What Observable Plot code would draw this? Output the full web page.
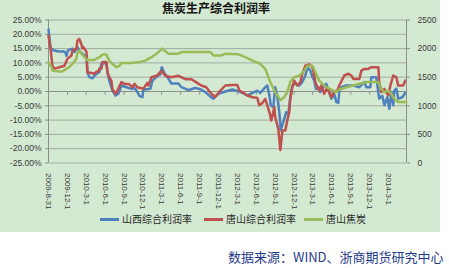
<!DOCTYPE html>
<html><head><meta charset="utf-8">
<script src="https://cdn.jsdelivr.net/npm/d3@7"></script>
<script src="https://cdn.jsdelivr.net/npm/@observablehq/plot@0.6"></script>
<style>
html,body{margin:0;padding:0;background:#fff}
body{width:449px;height:268px;overflow:hidden;position:relative;font-family:"Noto Sans CJK SC","Noto Sans",sans-serif}
#panel{position:absolute;left:0;top:0;width:440px;height:232px;background:#d4e9d1}
#chart{position:absolute;left:0;top:0;width:440px;height:232px}
#title{position:absolute;left:0;top:0;width:432px;text-align:center;font-size:12px;font-weight:bold;line-height:15px;color:#141414}
.leg{position:absolute;top:212px;font-size:10px;line-height:14px;color:#2a2a2a;white-space:nowrap}
.legline{position:absolute;top:218px;width:19px;height:2.5px}
#caption{position:absolute;left:228px;top:248px;font-size:13px;line-height:18px;color:#1f3b8c;white-space:nowrap}
</style></head><body>
<div id="panel"><div id="chart"></div><div id="title">焦炭生产综合利润率</div></div>
<div id="caption">数据来源：WIND、浙商期货研究中心</div>
<script>
// ---- data ----
const seriesNames = ["山西综合利润率", "唐山综合利润率", "唐山焦炭"];
const seriesColors = ["#4f81bd", "#c0504d", "#9bbb59"];

const shanxiDates = ["2009-08-31","2009-09-10","2009-09-24","2009-10-18","2009-11-11","2009-11-21","2009-11-26","2009-12-03","2009-12-25","2010-01-03","2010-01-18","2010-01-27","2010-02-11","2010-02-21","2010-03-03","2010-03-07","2010-03-17","2010-03-31","2010-04-10","2010-04-20","2010-05-04","2010-05-14","2010-06-07","2010-06-12","2010-06-21","2010-07-06","2010-07-21","2010-08-04","2010-08-19","2010-09-12","2010-10-06","2010-10-21","2010-11-04","2010-11-13","2010-11-28","2010-12-03","2010-12-22","2011-01-06","2011-01-15","2011-02-09","2011-02-23","2011-03-02","2011-03-14","2011-04-03","2011-04-17","2011-05-21","2011-06-05","2011-07-09","2011-08-11","2011-09-05","2011-09-28","2011-10-23","2011-11-06","2011-11-30","2012-01-03","2012-02-06","2012-03-01","2012-03-25","2012-04-19","2012-05-13","2012-06-06","2012-06-20","2012-07-10","2012-07-24","2012-08-03","2012-08-10","2012-08-22","2012-08-31","2012-09-10","2012-09-20","2012-09-27","2012-10-14","2012-10-24","2012-11-03","2012-11-12","2012-11-22","2012-12-07","2012-12-26","2013-01-09","2013-01-24","2013-02-03","2013-02-17","2013-02-27","2013-03-08","2013-03-16","2013-03-28","2013-04-06","2013-04-21","2013-05-05","2013-05-20","2013-05-30","2013-06-13","2013-06-23","2013-07-02","2013-07-07","2013-07-17","2013-08-10","2013-09-13","2013-10-12","2013-11-05","2013-11-15","2013-12-04","2013-12-09","2014-01-02","2014-01-16","2014-01-31","2014-02-10","2014-02-24","2014-03-06","2014-03-16","2014-03-25","2014-03-30","2014-04-09","2014-04-18","2014-05-08","2014-05-22"];
const shanxiRates = [21.7,15.3,14.4,14.0,14.0,13.6,12.5,14.4,15.0,13.8,15.5,14.2,13.2,12.6,12.4,6.7,5.0,4.6,5.5,6.2,6.8,9.7,10.0,6.7,3.8,0.3,-1.4,-0.8,2.1,1.5,0.9,1.2,-0.2,-1.5,-2.0,0.8,0.8,1.0,3.7,5.5,6.0,8.5,6.5,4.5,2.8,2.8,1.5,0.5,1.2,0.8,-0.2,-1.8,-2.5,-0.8,0.0,0.7,0.2,-0.5,-1.4,-0.5,0.3,-0.5,1.2,2.1,-1.4,-4.9,-5.5,1.5,-1.4,-7.2,-13.6,-9.5,-7.2,-7.8,-2.0,2.1,2.7,2.1,3.3,5.6,8.5,7.3,5.0,3.8,0.9,1.5,-0.2,1.5,2.7,-0.5,-2.5,-1.0,-3.7,-4.0,0.0,1.5,2.1,2.1,1.5,3.3,1.5,1.5,5.0,5.0,-2.5,-1.5,-4.8,-2.0,-6.0,-0.2,-4.8,0.3,1.0,-2.5,-2.0,-0.5];

const tangshanDates = ["2009-08-31","2009-09-10","2009-09-19","2009-09-29","2009-10-23","2009-11-16","2009-11-30","2009-12-20","2009-12-25","2010-01-13","2010-01-18","2010-01-27","2010-02-06","2010-02-11","2010-02-16","2010-03-03","2010-03-07","2010-03-27","2010-04-10","2010-04-20","2010-04-30","2010-05-04","2010-05-14","2010-05-19","2010-06-07","2010-06-12","2010-06-21","2010-07-01","2010-07-06","2010-07-21","2010-07-30","2010-08-19","2010-09-02","2010-09-26","2010-10-11","2010-10-21","2010-11-04","2010-11-18","2010-12-03","2010-12-22","2010-12-27","2011-01-11","2011-02-04","2011-02-28","2011-03-19","2011-04-17","2011-05-21","2011-06-24","2011-07-23","2011-08-16","2011-09-09","2011-10-03","2011-10-27","2011-11-15","2011-12-10","2012-01-03","2012-02-06","2012-03-01","2012-03-11","2012-03-25","2012-04-19","2012-05-13","2012-06-06","2012-06-15","2012-06-30","2012-07-14","2012-08-03","2012-08-12","2012-08-27","2012-08-31","2012-09-15","2012-09-25","2012-10-05","2012-10-19","2012-10-29","2012-11-07","2012-11-12","2012-11-22","2012-12-01","2012-12-16","2012-12-31","2013-01-09","2013-01-24","2013-02-12","2013-02-27","2013-03-08","2013-03-13","2013-03-23","2013-04-01","2013-04-11","2013-04-25","2013-05-05","2013-05-15","2013-05-30","2013-06-13","2013-06-27","2013-07-07","2013-07-31","2013-08-20","2013-09-03","2013-09-13","2013-10-12","2013-10-22","2013-11-05","2013-11-24","2013-12-09","2014-01-12","2014-01-16","2014-01-26","2014-02-10","2014-03-01","2014-03-11","2014-03-25","2014-04-09","2014-04-18","2014-05-12","2014-05-22"];
const tangshanRates = [19.5,15.0,9.0,8.0,8.5,9.0,11.4,12.6,14.3,15.0,17.8,18.4,16.6,15.0,15.5,13.8,6.7,6.5,6.2,7.0,7.0,8.0,8.0,10.3,10.3,6.7,5.0,3.8,0.9,-0.8,0.3,3.3,2.7,2.5,1.5,2.7,1.5,1.2,1.0,3.0,2.1,5.0,5.5,7.2,5.5,5.0,5.5,4.3,4.3,3.2,2.1,1.5,-0.8,-1.9,0.3,2.1,2.3,2.3,0.3,-0.2,-1.4,-2.0,-2.3,-4.8,-4.0,-2.6,-7.2,-10.1,-5.5,-9.0,-13.0,-20.5,-13.6,-13.6,-10.0,-7.2,-2.6,1.5,3.8,2.1,3.3,6.1,9.0,9.5,8.5,5.6,3.3,1.5,0.3,2.1,-0.8,0.9,0.3,-2.0,0.0,0.3,2.1,5.6,6.2,5.6,4.4,4.4,7.3,7.9,7.9,8.5,8.5,3.3,-0.2,0.9,-1.4,2.1,5.6,5.0,2.1,2.1,3.8];

const cokeDates = ["2009-08-31","2009-09-15","2009-09-19","2009-10-23","2009-11-06","2009-11-26","2009-12-10","2009-12-25","2010-01-13","2010-01-18","2010-01-27","2010-02-06","2010-02-21","2010-03-07","2010-04-10","2010-05-04","2010-05-19","2010-06-07","2010-06-21","2010-07-06","2010-07-25","2010-08-09","2010-08-19","2010-10-06","2010-11-18","2010-12-12","2011-01-11","2011-02-04","2011-03-05","2011-04-03","2011-05-21","2011-06-05","2011-10-23","2011-11-06","2011-12-15","2012-01-03","2012-02-06","2012-03-06","2012-04-09","2012-05-13","2012-06-20","2012-07-14","2012-08-07","2012-08-31","2012-09-25","2012-10-14","2012-10-29","2012-11-12","2012-12-01","2012-12-26","2013-01-19","2013-02-03","2013-02-27","2013-03-13","2013-04-01","2013-04-25","2013-05-05","2013-06-23","2013-07-07","2013-08-10","2013-09-13","2013-10-12","2013-11-15","2014-01-12","2014-01-26","2014-02-10","2014-03-01","2014-03-16","2014-03-30","2014-04-18","2014-05-27"];
const cokePrices = [1765,1675,1615,1600,1600,1650,1675,1735,1820,1925,1965,1910,1850,1800,1800,1850,1895,1895,1790,1735,1675,1700,1750,1750,1765,1790,1850,1910,2000,1910,1910,1940,1940,1880,1880,1910,1905,1900,1850,1790,1735,1645,1415,1240,1100,1150,1240,1415,1500,1525,1615,1700,1700,1590,1440,1355,1325,1240,1285,1325,1355,1385,1415,1415,1295,1240,1265,1210,1120,1065,1065];

const leftTicks = [25, 20, 15, 10, 5, 0, -5, -10, -15, -20, -25];
const rightTicks = [0, 500, 1000, 1500, 2000, 2500];
const xTickDates = ["2009-08-31","2009-12-01","2010-03-01","2010-06-01","2010-09-01","2010-12-01","2011-03-01","2011-06-01","2011-09-01","2011-12-01","2012-03-01","2012-06-01","2012-09-01","2012-12-01","2013-03-01","2013-06-01","2013-09-01","2013-12-01","2014-03-01"];
const xTickLabels = ["2009-8-31","2009-12-1","2010-3-1","2010-6-1","2010-9-1","2010-12-1","2011-3-1","2011-6-1","2011-9-1","2011-12-1","2012-3-1","2012-6-1","2012-9-1","2012-12-1","2013-3-1","2013-6-1","2013-9-1","2013-12-1","2014-3-1"];
const xDomain = ["2009-08-31", "2014-05-28"];

// ---- build ----
const parse = s => new Date(s + "T00:00:00Z");
const leftDomain = [-25, 25], rightDomain = [0, 2500];
const toLeft = v => leftDomain[0] + (v - rightDomain[0]) / (rightDomain[1] - rightDomain[0]) * (leftDomain[1] - leftDomain[0]);
const toRight = p => rightDomain[0] + (p - leftDomain[0]) / (leftDomain[1] - leftDomain[0]) * (rightDomain[1] - rightDomain[0]);

const shanxi = shanxiDates.map((d, i) => ({date: parse(d), v: shanxiRates[i]}));
const tangshan = tangshanDates.map((d, i) => ({date: parse(d), v: tangshanRates[i]}));
const coke = cokeDates.map((d, i) => ({date: parse(d), v: toLeft(cokePrices[i])}));
const tickDates = xTickDates.map(parse);
const labelMap = new Map(tickDates.map((d, i) => [+d, xTickLabels[i]]));

const grid = "#a3aba2", axisC = "#8a8f89", txt = "#3a3a3a";
const font = "'Liberation Sans', Arial, sans-serif";

const chart = Plot.plot({
  width: 440, height: 232,
  marginLeft: 48, marginRight: 34, marginTop: 19.5, marginBottom: 69.5,
  x: {type: "utc", domain: xDomain.map(parse), label: null},
  y: {domain: leftDomain, label: null},
  style: {background: "transparent", fontFamily: font, fontSize: "8.5px", color: txt, overflow: "visible"},
  marks: [
    Plot.ruleY(leftTicks, {stroke: grid, strokeWidth: 1}),
    Plot.ruleX([parse(xDomain[0]), parse(xDomain[1])], {stroke: axisC, strokeWidth: 1}),
    Plot.ruleY([0], {stroke: axisC, strokeWidth: 1}),
    Plot.ruleX(tickDates, {y1: 0, y2: -1.3, stroke: axisC, strokeWidth: 1}),
    Plot.axisY(leftTicks, {anchor: "left", tickSize: 3, tickPadding: 4, stroke: axisC, fill: txt, label: null,
      tickFormat: d => d.toFixed(2) + "%"}),
    Plot.axisY(rightTicks.map(toLeft), {anchor: "right", tickSize: 3, tickPadding: 8, stroke: axisC, fill: txt, label: null,
      tickFormat: d => String(Math.round(toRight(d)))}),
    Plot.axisX(tickDates, {anchor: "bottom", tickSize: 0, tickPadding: 10, tickRotate: 90, fill: txt, label: null,
      fontSize: 8, tickFormat: d => labelMap.get(+d)}),
    Plot.line(shanxi, {x: "date", y: "v", stroke: seriesColors[0], strokeWidth: 2.5, strokeLinejoin: "round"}),
    Plot.line(tangshan, {x: "date", y: "v", stroke: seriesColors[1], strokeWidth: 2.5, strokeLinejoin: "round"}),
    Plot.line(coke, {x: "date", y: "v", stroke: seriesColors[2], strokeWidth: 2.5, strokeLinejoin: "round"})
  ]
});
document.getElementById("chart").appendChild(chart);

// legend
const panel = document.getElementById("panel");
const legTextX = [122, 226, 326];
seriesNames.forEach((name, i) => {
  const line = document.createElement("div");
  line.className = "legline";
  line.style.left = (legTextX[i] - 22) + "px";
  line.style.background = seriesColors[i];
  panel.appendChild(line);
  const t = document.createElement("div");
  t.className = "leg";
  t.style.left = legTextX[i] + "px";
  t.textContent = name;
  panel.appendChild(t);
});
</script>
</body></html>
